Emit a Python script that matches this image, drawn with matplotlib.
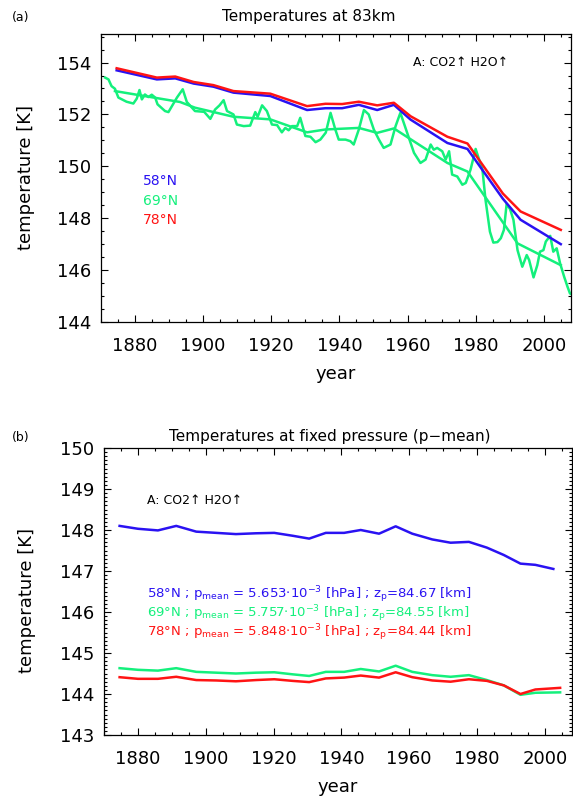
import numpy as np
import matplotlib
matplotlib.use("Agg")
import matplotlib.pyplot as plt
from matplotlib.ticker import MultipleLocator

# ---- panel (a): temperatures at 83 km ----
yrs_a = [1874.6, 1886.4, 1891.8, 1897.2, 1903.0, 1908.9, 1919.7, 1930.5, 1935.9,
         1940.8, 1945.7, 1951.1, 1956.0, 1960.9, 1971.7, 1977.6, 1988.0, 1993.2, 2005.0]
t58_a = [153.70, 153.35, 153.39, 153.19, 153.07, 152.84, 152.71, 152.17, 152.24,
         152.24, 152.37, 152.17, 152.37, 151.80, 150.90, 150.67, 148.75, 147.94, 147.00]
t78_a = [153.78, 153.42, 153.46, 153.25, 153.13, 152.90, 152.80, 152.32, 152.41,
         152.40, 152.49, 152.35, 152.45, 151.93, 151.14, 150.88, 148.95, 148.26, 147.55]

yrs_trend = [1874.1, 1893.2, 1897.6, 1908.9, 1919.7, 1930.5, 1935.9, 1945.7, 1951.1,
             1956.0, 1971.7, 1977.6, 1992.3, 2005.0]
t69_trend = [152.90, 152.48, 152.26, 151.91, 151.81, 151.31, 151.42, 151.48, 151.29,
             151.46, 150.13, 149.80, 147.03, 146.19]

yrs_69 = [1871.2, 1872.2, 1873.1, 1874.1, 1875.1, 1877.5, 1879.5, 1880.5, 1881.3, 1882.0,
          1882.9, 1883.9, 1884.9, 1885.9, 1886.6, 1888.8, 1889.8, 1892.3, 1894.0, 1895.2,
          1897.6, 1900.3, 1902.1, 1903.5, 1904.8, 1906.0, 1907.0, 1908.9, 1909.9, 1911.9,
          1913.8, 1915.3, 1916.0, 1917.3, 1918.7, 1920.2, 1921.7, 1923.1, 1924.1, 1925.1,
          1926.1, 1927.6, 1928.5, 1930.0, 1931.5, 1933.0, 1934.4, 1936.0, 1937.4, 1938.8,
          1939.8, 1941.8, 1943.2, 1944.2, 1945.7, 1947.2, 1948.6, 1950.1, 1951.6, 1953.0,
          1955.0, 1956.5, 1957.9, 1959.9, 1961.9, 1963.8, 1965.3, 1966.8, 1967.7, 1968.7,
          1970.2, 1971.2, 1972.2, 1973.1, 1974.6, 1976.1, 1977.1, 1978.5, 1980.0, 1982.0,
          1982.9, 1984.2, 1985.2, 1986.4, 1987.4, 1988.3, 1989.1, 1990.1, 1991.1, 1992.3,
          1993.7, 1995.0, 1995.7, 1997.0, 1998.1, 1998.9, 1999.9, 2000.6, 2001.9, 2002.8,
          2003.8, 2004.8, 2006.0, 2007.0, 2007.7, 2008.7]
t69_a = [153.42, 153.35, 153.09, 152.99, 152.65, 152.49, 152.42, 152.61, 152.94, 152.58,
         152.77, 152.67, 152.76, 152.65, 152.39, 152.13, 152.09, 152.65, 152.97, 152.48,
         152.13, 152.10, 151.83, 152.19, 152.35, 152.55, 152.13, 152.00, 151.61, 151.55,
         151.57, 152.09, 151.91, 152.35, 152.13, 151.61, 151.59, 151.31, 151.48, 151.39,
         151.55, 151.55, 151.87, 151.17, 151.14, 150.93, 151.03, 151.30, 152.06, 151.42,
         151.03, 151.03, 150.97, 150.84, 151.42, 152.17, 152.00, 151.42, 151.03, 150.71,
         150.84, 151.55, 152.06, 151.29, 150.52, 150.13, 150.26, 150.84, 150.64, 150.71,
         150.58, 150.26, 150.58, 149.68, 149.61, 149.29, 149.36, 149.87, 150.67, 149.87,
         148.71, 147.48, 147.06, 147.08, 147.23, 147.55, 148.55, 148.35, 147.94, 146.77,
         146.13, 146.58, 146.39, 145.72, 146.19, 146.71, 146.77, 147.10, 147.32, 146.71,
         146.84, 146.26, 145.74, 145.35, 145.10, 145.03]

# ---- panel (b): temperatures at fixed pressure ----
yrs_b = [1874.6, 1880.0, 1885.9, 1891.3, 1897.2, 1903.1, 1908.9, 1914.8, 1920.2, 1925.6,
         1930.5, 1935.4, 1940.8, 1945.7, 1951.1, 1956.0, 1960.9, 1966.8, 1972.2, 1977.6,
         1982.9, 1987.9, 1992.8, 1997.2, 2004.5]
yrs_b58 = yrs_b[:-1] + [2002.5]
t58_b = [148.10, 148.03, 147.99, 148.10, 147.96, 147.93, 147.90, 147.92, 147.93, 147.86,
         147.79, 147.93, 147.93, 148.00, 147.91, 148.09, 147.91, 147.77, 147.69, 147.71,
         147.57, 147.39, 147.18, 147.15, 147.05]
t69_b = [144.63, 144.59, 144.57, 144.63, 144.54, 144.52, 144.50, 144.52, 144.53, 144.48,
         144.44, 144.54, 144.54, 144.61, 144.55, 144.69, 144.54, 144.46, 144.42, 144.46,
         144.34, 144.21, 143.98, 144.03, 144.04]
t78_b = [144.41, 144.37, 144.37, 144.42, 144.34, 144.33, 144.31, 144.34, 144.36, 144.32,
         144.29, 144.38, 144.40, 144.45, 144.40, 144.53, 144.41, 144.33, 144.30, 144.36,
         144.32, 144.21, 144.00, 144.11, 144.15]

labels_b = [r"58°N ; p$_{\rm mean}$ = 5.653$\cdot$10$^{-3}$ [hPa] ; z$_{\rm p}$=84.67 [km]",
            r"69°N ; p$_{\rm mean}$ = 5.757$\cdot$10$^{-3}$ [hPa] ; z$_{\rm p}$=84.55 [km]",
            r"78°N ; p$_{\rm mean}$ = 5.848$\cdot$10$^{-3}$ [hPa] ; z$_{\rm p}$=84.44 [km]"]

BLUE = '#2a12f2'
GREEN = '#14f07c'
RED = '#ff1414'
W, H = 573, 797
LW = 1.8

plt.rcParams['font.family'] = 'DejaVu Sans'
plt.rcParams['mathtext.fontset'] = 'dejavusans'

fig = plt.figure(figsize=(W / 100, H / 100), dpi=100)


def px_axes(l, t, r, b):
    return fig.add_axes([l / W, 1 - b / H, (r - l) / W, (b - t) / H])


def style(ax, ymaj, ymin):
    ax.set_xlim(1870, 2008)
    ax.xaxis.set_major_locator(MultipleLocator(20))
    ax.xaxis.set_minor_locator(MultipleLocator(5))
    ax.yaxis.set_major_locator(MultipleLocator(ymaj))
    ax.yaxis.set_minor_locator(MultipleLocator(ymin))
    ax.tick_params(which='both', direction='in', top=True, right=True, width=0.8)
    ax.tick_params(which='major', length=5, labelsize=13)
    ax.tick_params(which='minor', length=2.5)
    ax.tick_params(axis='x', pad=11)
    ax.tick_params(axis='y', pad=7)
    for s in ax.spines.values():
        s.set_linewidth(0.9)
    ax.set_xlabel('year', fontsize=13)
    ax.set_ylabel('temperature [K]', fontsize=13)


# panel (a)
ax1 = px_axes(101, 34, 571, 322)
ax1.plot(yrs_69, t69_a, color=GREEN, lw=LW)
ax1.plot(yrs_trend, t69_trend, color=GREEN, lw=LW)
ax1.plot(yrs_a, t58_a, color=BLUE, lw=LW)
ax1.plot(yrs_a, t78_a, color=RED, lw=LW)
ax1.set_ylim(144, 155.1)
style(ax1, 2, 0.5)
ax1.yaxis.set_label_coords(-0.14, 0.5)
ax1.xaxis.set_label_coords(0.5, -0.15)

fig.text(12 / W, 1 - 17 / H, '(a)', fontsize=9, va='center')
fig.text(309 / W, 1 - 16 / H, 'Temperatures at 83km', fontsize=11, ha='center', va='center')
fig.text(413 / W, 1 - 63 / H, 'A: CO2↑ H2O↑', fontsize=9, va='center')
for lab, col, yy in zip(['58°N', '69°N', '78°N'], [BLUE, GREEN, RED], [181, 201, 220]):
    fig.text(143 / W, 1 - yy / H, lab, color=col, fontsize=10, va='center')

# panel (b)
ax2 = px_axes(104, 448, 572, 735)
ax2.plot(yrs_b58, t58_b, color=BLUE, lw=LW)
ax2.plot(yrs_b, t69_b, color=GREEN, lw=LW)
ax2.plot(yrs_b, t78_b, color=RED, lw=LW)
ax2.set_ylim(143, 150)
style(ax2, 1, 0.1)
ax2.yaxis.set_label_coords(-0.145, 0.47)
ax2.xaxis.set_label_coords(0.5, -0.15)

fig.text(12 / W, 1 - 438 / H, '(b)', fontsize=9, va='center')
fig.text(330 / W, 1 - 437 / H, 'Temperatures at fixed pressure (p\u2212mean)',
         fontsize=11, ha='center', va='center')
fig.text(147 / W, 1 - 500 / H, 'A: CO2↑ H2O↑', fontsize=9, va='center')
for lab, col, yy in zip(labels_b, [BLUE, GREEN, RED], [595, 614, 633]):
    fig.text(147 / W, 1 - yy / H, lab, color=col, fontsize=9.5, va='center')

fig.savefig('out.png', dpi=100)
